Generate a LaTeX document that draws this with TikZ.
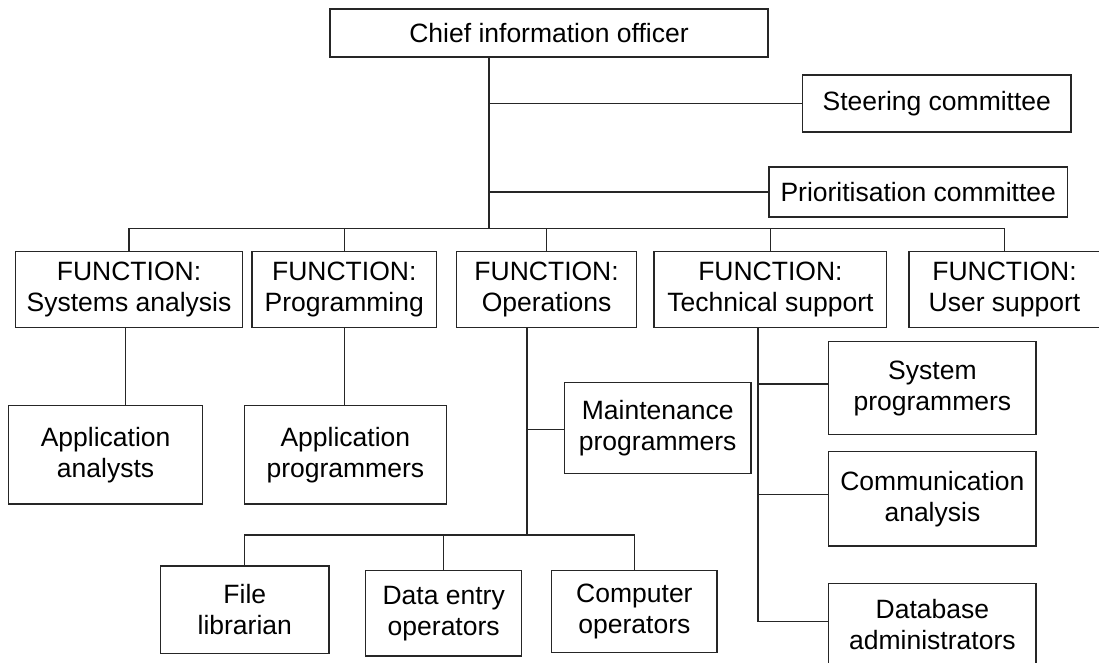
\documentclass[tikz,border=0pt]{standalone}
\usepackage{fontspec}
\setmainfont{Liberation Sans}
\begin{document}
\begin{tikzpicture}[x=1pt,y=-1pt,
  box/.style={draw=black!85, line width=1.2pt, inner sep=0pt, align=center,
    font=\fontsize{26.5}{31}\selectfont, text=black},
  conn/.style={draw=black!85, line width=1.2pt}]
\useasboundingbox (0,0) rectangle (1099,663);
% top level
\node[box, minimum width=438, minimum height=48] (chief) at (549,33) {Chief information officer};
\node[box, minimum width=268.4, minimum height=57] (steer) at (936.8,103.5) {Steering committee};
\node[box, minimum width=298.5, minimum height=50] (prior) at (918.2,192) {Prioritisation committee};
% functions
\node[box, minimum width=226.9, minimum height=76] (sys) at (129,289.8) {FUNCTION:\\Systems analysis};
\node[box, minimum width=184.5, minimum height=76] (prog) at (344.25,289.8) {FUNCTION:\\Programming};
\node[box, minimum width=180.2, minimum height=76] (ops) at (546.6,289.8) {FUNCTION:\\Operations};
\node[box, minimum width=232.8, minimum height=76] (tech) at (770.4,289.8) {FUNCTION:\\Technical support};
\node[box, minimum width=191, minimum height=76] (user) at (1004.5,289.8) {FUNCTION:\\User support};
% second level
\node[box, minimum width=194.2, minimum height=98.3] (aa) at (105.6,454.9) {Application\\analysts};
\node[box, minimum width=201.7, minimum height=98.3] (ap) at (345.35,454.9) {Application\\programmers};
\node[box, minimum width=186.6, minimum height=91] (maint) at (657.7,427.8) {Maintenance\\programmers};
\node[box, minimum width=207.2, minimum height=92.6] (sysp) at (932.4,388) {System\\programmers};
\node[box, minimum width=207.2, minimum height=94.7] (comm) at (932.4,498.7) {Communication\\analysis};
\node[box, minimum width=207.2, minimum height=82.7] (dba) at (932.4,624.6) {Database\\administrators};
\node[box, minimum width=168.4, minimum height=87.3] (file) at (244.8,609.7) {File\\librarian};
\node[box, minimum width=155.8, minimum height=85.3] (data) at (443.7,613.3) {Data entry\\operators};
\node[box, minimum width=165.2, minimum height=81.6] (comp) at (634.4,611.5) {Computer\\operators};
% junction coordinates
\coordinate (trunkTop) at (489,57);
\coordinate (busJ) at (489,228.3);
\coordinate (sysDrop) at (125.2,327.8);
\coordinate (opsDrop) at (527,327.8);
\coordinate (opsEnd) at (527,535);
\coordinate (jM) at (527,429.3);
\coordinate (techDrop) at (758,327.8);
\coordinate (techEnd) at (758,621.7);
\coordinate (jSys) at (758,384);
\coordinate (jComm) at (758,494.7);
% top connectors
\draw[conn] (trunkTop) -- (busJ);
\draw[conn] (trunkTop |- steer.west) -- (steer.west);
\draw[conn] (trunkTop |- prior.west) -- (prior.west);
\draw[conn] (sys.north |- busJ) -- (user.north |- busJ);
\foreach \n in {sys,prog,ops,tech,user} \draw[conn] (\n.north) -- (\n.north |- busJ);
% second level connectors
\draw[conn] (sysDrop) -- (sysDrop |- aa.north);
\draw[conn] (prog.south) -- (prog.south |- ap.north);
\draw[conn] (opsDrop) -- (opsEnd);
\draw[conn] (jM) -- (jM -| maint.west);
\draw[conn] (file.north) -- (file.north |- opsEnd) -- (comp.north |- opsEnd) -- (comp.north);
\draw[conn] (data.north) -- (data.north |- opsEnd);
\draw[conn] (techDrop) -- (techEnd) -- (techEnd -| dba.west);
\draw[conn] (jSys) -- (jSys -| sysp.west);
\draw[conn] (jComm) -- (jComm -| comm.west);
\end{tikzpicture}
\end{document}
